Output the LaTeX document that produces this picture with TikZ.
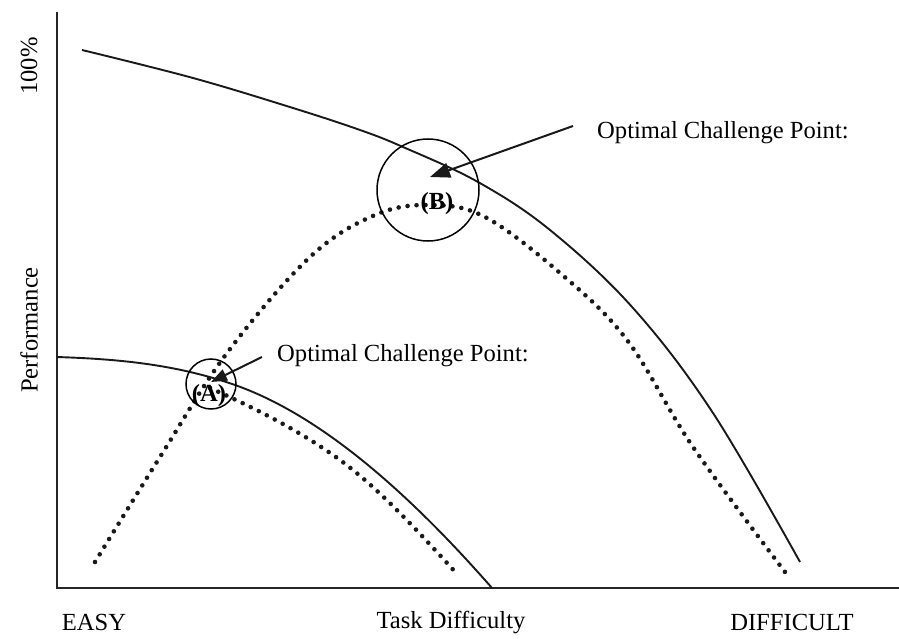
\documentclass[tikz,border=0pt]{standalone}
\usepackage{fontspec}
\setmainfont{Liberation Serif}
\usetikzlibrary{arrows.meta}
\tikzset{
  axisline/.style={line width=2pt, black!85},
  solidcurve/.style={line width=1.9pt, black!90},
  dotcurve/.style={line width=4.6pt, black!90, line cap=round, dash pattern=on 0pt off 9pt},
  ring/.style={circle, draw, line width=1.5pt, inner sep=0pt},
  lbl/.style={inner sep=0pt, font=\fontsize{24.6}{28}\selectfont},
  blbl/.style={inner sep=0pt, font=\fontsize{24.6}{28}\selectfont\bfseries},
  pointer/.style={line width=2pt, black!90}
}
\begin{document}
\begin{tikzpicture}[x=1pt,y=-1pt]
\useasboundingbox (0,0) rectangle (899,639);
% axes
\coordinate (top) at (57,12);
\coordinate (origin) at (57,588);
\coordinate (right) at (899,588);
\draw[axisline] (top) -- (origin) -- (right);
% upper solid curve
\draw[solidcurve] plot[smooth, tension=0.6] coordinates {(82,50) (193,78) (293,108) (360,130) (403,147) (478,182) (550,230) (633,308) (713,413) (800,562)};
% upper dotted curve
\draw[dotcurve] plot[smooth, tension=0.6] coordinates {(95,562) (160,457) (227,353) (310,257) (375,215) (430,205) (485,217) (560,273) (627,340) (693,447) (785,572)};
% lower solid curve
\draw[solidcurve] (57,357) .. controls (117,359) and (175,364) .. (235,385)
                           .. controls (320,415) and (407,491) .. (492,588);
% lower dotted curve
\draw[dotcurve] (210,388) .. controls (250,406) and (293,427) .. (333,455)
                          .. controls (375,484) and (416,529) .. (458,575);
% circles
\node[ring, minimum size=102pt] (cB) at (428,190) {};
\node[ring, minimum size=50pt] (cA) at (211,384) {};
% circle labels
\node[blbl] (lB) at (437,204) {(B)};
\node[blbl] (lA) at (209,396) {(A)};
% texts
\node[lbl, anchor=west] (tB) at (597,133) {Optimal Challenge Point:};
\node[lbl, anchor=west] (tA) at (277,356) {Optimal Challenge Point:};
% arrows
\coordinate (sB) at (573,126);
\coordinate (eB) at (430,177);
\coordinate (sA) at (262,357);
\coordinate (eA) at (211,382);
\draw[pointer, -{Triangle[length=20pt, width=15pt]}] (sB) -- (eB);
\draw[pointer, -{Triangle[length=16pt, width=12pt]}] (sA) -- (eA);
% axis labels
\node[lbl, rotate=90] (perf) at (29,330) {Performance};
\node[lbl, rotate=90] (hundred) at (29,66) {100\%};
\node[lbl] (easy) at (94,622) {EASY};
\node[lbl] (task) at (451,622) {Task Difficulty};
\node[lbl] (diff) at (792,622) {DIFFICULT};
\end{tikzpicture}
\end{document}
